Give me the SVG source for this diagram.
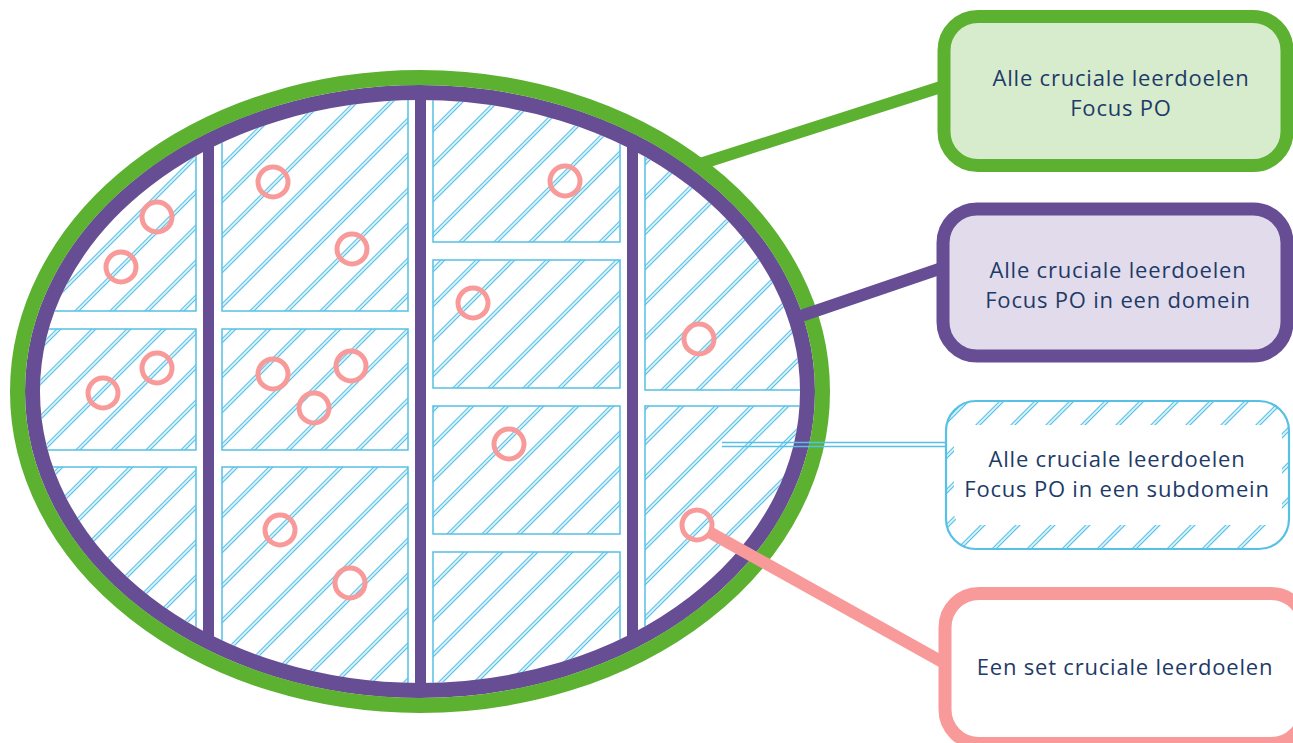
<svg xmlns="http://www.w3.org/2000/svg" width="1293" height="743" viewBox="0 0 1293 743">
<defs>
<style>
.cell{fill:url(#hatch);stroke:#56c0e5;stroke-width:1.5}
.bar{fill:#674e94}
.dot{fill:none;stroke:#f99a9a;stroke-width:5}
.lbl{font-family:"Open Sans","Liberation Sans",sans-serif;font-size:22px;letter-spacing:0.8px;fill:#1e3a68;text-anchor:middle}
</style>
<pattern id="hatch" patternUnits="userSpaceOnUse" width="24.75" height="24.75" patternTransform="rotate(-45)">
<rect x="0" y="0" width="24.75" height="1.25" fill="#56c0e5"/>
<rect x="0" y="2.8" width="24.75" height="1.25" fill="#56c0e5"/>
</pattern>
<clipPath id="inner"><ellipse cx="420" cy="391.5" rx="380" ry="291.5"/></clipPath>
<clipPath id="mid"><ellipse cx="420" cy="391.5" rx="390" ry="301"/></clipPath>
</defs>

<g id="oval">
<ellipse cx="420" cy="391.5" rx="395" ry="306" fill="#ffffff"/>
<g clip-path="url(#inner)">
<rect class="cell" x="20" y="80" width="176" height="231"/>
<rect class="cell" x="20" y="329" width="176" height="121"/>
<rect class="cell" x="20" y="467" width="176" height="240"/>
<rect class="cell" x="222" y="80" width="186" height="231"/>
<rect class="cell" x="222" y="329" width="186" height="121"/>
<rect class="cell" x="222" y="467" width="186" height="240"/>
<rect class="cell" x="433" y="80" width="187" height="162"/>
<rect class="cell" x="433" y="260" width="187" height="128"/>
<rect class="cell" x="433" y="406" width="187" height="128"/>
<rect class="cell" x="433" y="552" width="187" height="155"/>
<rect class="cell" x="645" y="80" width="180" height="310"/>
<rect class="cell" x="645" y="406" width="180" height="300"/>
</g>
<g clip-path="url(#mid)">
<rect class="bar" x="203" y="80" width="11" height="630"/>
<rect class="bar" x="415" y="80" width="11" height="630"/>
<rect class="bar" x="627" y="80" width="11" height="630"/>
</g>
<ellipse cx="420" cy="391.5" rx="387.5" ry="299" fill="none" stroke="#674e94" stroke-width="15"/>
<ellipse cx="420" cy="391.5" rx="402.5" ry="314" fill="none" stroke="#5cb130" stroke-width="15"/>
</g>

<g id="goals">
<circle class="dot" cx="157" cy="217" r="15"/>
<circle class="dot" cx="121" cy="267" r="15"/>
<circle class="dot" cx="273" cy="182" r="15"/>
<circle class="dot" cx="352" cy="249" r="15"/>
<circle class="dot" cx="565" cy="181" r="15"/>
<circle class="dot" cx="473" cy="303" r="15"/>
<circle class="dot" cx="157" cy="368" r="15"/>
<circle class="dot" cx="103" cy="393" r="15"/>
<circle class="dot" cx="273" cy="374" r="15"/>
<circle class="dot" cx="351" cy="366" r="15"/>
<circle class="dot" cx="314" cy="408" r="15"/>
<circle class="dot" cx="509" cy="444" r="15"/>
<circle class="dot" cx="699" cy="339" r="15"/>
<circle class="dot" cx="280" cy="530" r="15"/>
<circle class="dot" cx="350" cy="583" r="15"/>
<circle class="dot" cx="697" cy="525" r="15"/>
</g>

<g id="connectors">
<line x1="700" y1="164" x2="944" y2="86" stroke="#5cb130" stroke-width="12"/>
<line x1="798" y1="317" x2="942" y2="268" stroke="#674e94" stroke-width="12"/>
<line x1="722" y1="442.5" x2="946" y2="442.5" stroke="#56c0e5" stroke-width="1.3"/>
<line x1="722" y1="446.5" x2="946" y2="446.5" stroke="#56c0e5" stroke-width="1.3"/>
<line x1="711" y1="533" x2="946" y2="664" stroke="#f99a9a" stroke-width="12"/>
</g>

<g id="box-po">
<rect x="944" y="16.5" width="343" height="149" rx="34" fill="#d6eccd" stroke="#5cb130" stroke-width="13"/>
<text class="lbl" x="1121" y="86">Alle cruciale leerdoelen</text>
<text class="lbl" x="1121" y="116">Focus PO</text>
</g>

<g id="box-domein">
<rect x="943" y="209" width="344" height="147" rx="34" fill="#e1dbeb" stroke="#674e94" stroke-width="13"/>
<text class="lbl" x="1118" y="278">Alle cruciale leerdoelen</text>
<text class="lbl" x="1118" y="308">Focus PO in een domein</text>
</g>

<g id="box-subdomein">
<rect x="946" y="401" width="343" height="148" rx="30" fill="url(#hatch)" stroke="#56c0e5" stroke-width="2.2"/>
<rect x="954" y="425" width="328" height="100" rx="12" fill="#ffffff"/>
<text class="lbl" x="1117" y="467">Alle cruciale leerdoelen</text>
<text class="lbl" x="1117" y="497">Focus PO in een subdomein</text>
</g>

<g id="box-set">
<rect x="945" y="593.5" width="360" height="150" rx="34" fill="#ffffff" stroke="#f99a9a" stroke-width="13"/>
<text class="lbl" x="1125" y="675">Een set cruciale leerdoelen</text>
</g>
</svg>
